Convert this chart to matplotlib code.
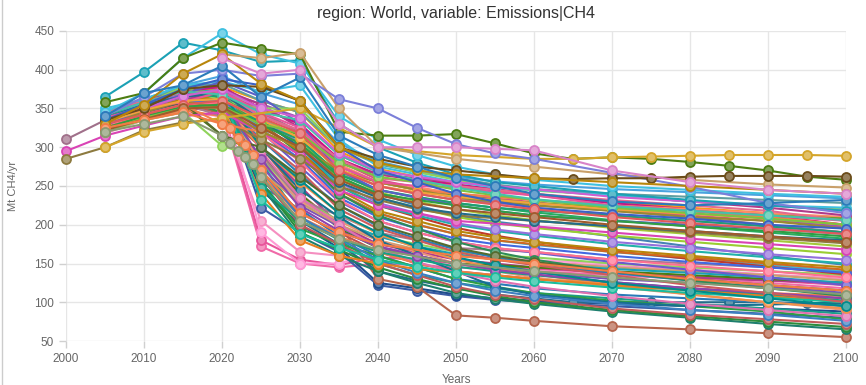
import numpy as np
import matplotlib.pyplot as plt
from matplotlib.colors import to_rgb

plt.rcParams['font.family'] = ['Liberation Sans', 'DejaVu Sans']

N = None
years = list(range(2000, 2101, 5))

# scenarios that stay high until 2030
high_paths = [
    [N, 365, 397, 435, 425, 410, 412, 330, 300, 280, 265, 255, 250, N, 240, N, 232, N, 225, N, 218],
    [N, 345, 370, 415, 447, 420, 408, 340, 310, 290, 275, 265, 258, N, 250, N, 245, N, 240, N, 236],
    [N, 358, 370, 415, 435, 427, 420, 320, 315, 315, 317, 305, 292, 285, 287, 285, 281, 276, 270, 262, 258],
    [N, 300, 320, 330, 338, N, 350, N, 300, N, 290, N, 285, 285, 287, 288, 289, 290, 290, 290, 289],
    [N, N, N, N, 420, 415, 422, 350, 300, N, 285, N, 275, N, 265, N, 258, N, 252, N, 248],
    [N, 340, 365, 395, 400, 392, 395, 362, 350, 325, 304, 292, 285, N, 267, N, 249, N, 228, N, 215],
    [N, 335, 350, 375, 380, 378, 360, 300, 285, 275, 270, 265, 260, 259, 260, 260, 262, 263, 263, 263, 262],
    [N, 330, 355, 395, 420, 382, 360, 300, 280, 270, 265, N, 260, N, 255, N, 250, N, 245, N, 240],
    [N, 340, 370, 380, 405, 365, 390, 315, 290, 275, 260, 250, 240, N, 230, N, 225, N, 228, N, 232],
    [N, N, N, N, 415, 395, 400, 330, 300, 300, 300, 298, 296, N, 270, N, 255, N, 245, N, 240],
]
high_colors = ['#1ba1b5', '#3fc0e0', '#4c7d12', '#d4a52a', '#c9a06a',
               '#7b7fd9', '#6b4c1a', '#b8860b', '#2b7bba', '#d883c8']

# scenarios with a moderate decline
mid_paths = [
    [N, 335, 345, 360, 375, 355, 325, 280, 265, 260, 255, 250, 245, N, 238, N, 230, N, 222, N, 212],
    [N, 325, 340, 355, 330, 320, 300, 270, 255, 245, 240, N, 232, N, 225, N, 218, N, 210, N, 200],
    [N, 330, 355, 378, 360, 350, 350, 300, 280, 268, 258, 250, 244, N, 238, N, 230, N, 225, N, 220],
    [N, 340, 360, 370, 365, 330, 310, 265, 245, 235, 228, 222, 218, N, 212, N, 205, N, 198, N, 190],
    [N, 345, 360, 370, 372, 340, 322, 285, 260, 255, 250, 245, 240, N, 232, N, 225, N, 218, N, 205],
    [N, 350, 362, 380, 385, 372, 380, 310, 275, 265, 255, 248, 245, N, 238, N, 230, N, 225, N, 222],
    [N, 330, 345, 360, 350, 320, 300, 270, 255, 245, 235, N, 225, N, 218, N, 210, N, 205, N, 195],
    [N, 328, 350, 368, 385, 365, 330, 270, 245, 235, 225, 218, 212, N, 205, N, 200, N, 195, N, 188],
    [N, 333, 355, 365, 370, 335, 300, 255, 235, 222, 215, 210, 205, N, 198, N, 192, N, 185, N, 180],
    [N, 338, 352, 358, 372, 345, 325, 275, 255, 250, 248, 242, 238, N, 225, N, 218, N, 212, N, 205],
    [N, 325, 340, 352, 355, 330, 305, 262, 240, 232, 225, 218, 212, N, 205, N, 198, N, 192, N, 185],
    [N, 332, 348, 360, 362, 335, 312, 272, 250, 242, 236, N, 228, N, 220, N, 214, N, 208, N, 200],
    [N, 320, 338, 350, 352, 330, 318, 280, 262, 255, 245, 238, 232, N, 222, N, 215, N, 208, N, 200],
    [N, 342, 358, 372, 368, 345, 335, 290, 268, 258, 248, 240, 233, N, 224, N, 218, N, 212, N, 206],
    [N, 336, 350, 366, 375, 350, 338, 292, 270, 262, 255, 250, 246, N, 236, N, 230, N, 225, N, 218],
    [N, 335, 355, 375, 388, 380, 360, 300, 270, 255, 240, 230, 222, N, 214, N, 208, N, 200, N, 195],
    [N, 330, 342, 355, 360, 338, 318, 270, 250, 240, 232, 226, 220, N, 210, N, 202, N, 195, N, 188],
    [N, 322, 336, 350, 352, 325, 300, 258, 238, 228, 220, 215, 210, N, 200, N, 192, N, 185, N, 178],
]
mid_colors = ['#b03a8a', '#f07f4c', '#8fd35b', '#1f9e74', '#e36b8f', '#3fc0e0',
              '#9a8a2f', '#5b5fc7', '#236c8a', '#e8559b', '#2f9e44', '#f2a33a',
              '#7cc242', '#44c2a8', '#cf5fd0', '#3a62c4', '#e05a5a', '#a05a2c']

# scenarios that fall steeply after 2020
low_paths = [
    [N, 325, 340, 355, 345, 172, 150, 145, 150, 148, 145, 142, 140, N, 135, N, 130, N, 125, N, 118],
    [N, 330, 348, 358, 350, 180, 155, 148, 158, 155, 150, 147, 143, N, 138, N, 133, N, 128, N, 122],
    [N, 318, 335, 345, 340, 205, 165, 160, 170, 165, 160, 156, 152, N, 147, N, 142, N, 136, N, 130],
    [N, 335, 352, 360, 365, 190, 150, 150, 165, 162, 160, 157, 154, N, 150, N, 145, N, 140, N, 135],
    [N, 340, 355, 370, 370, 222, 190, 165, 122, 115, 108, 103, 100, N, 95, N, 90, N, 85, N, 80],
    [N, 332, 348, 360, 360, 245, 200, 170, 125, 118, 110, 105, 102, N, 98, N, 95, N, 92, N, 88],
    [N, 328, 340, 352, 345, 300, 240, 200, 130, 120, 83, 80, 76, N, 69, N, 65, N, 60, N, 55],
    [N, 330, 345, 358, 355, 280, 210, 180, 150, 135, 125, 118, 112, N, 105, N, 98, N, 92, N, 85],
    [N, 335, 350, 360, 358, 260, 205, 175, 140, 128, 118, 110, 105, 100, 100, 100, 100, 100, 100, 99, 98],
    [N, 345, 360, 372, 380, 250, 220, 185, 160, 145, 130, N, 118, N, 110, N, 105, N, 100, N, 95],
    [N, 338, 350, 362, 365, 300, 250, 200, 175, 165, 155, 150, 145, N, 138, N, 132, N, 128, N, 125],
    [N, 330, 342, 355, 315, 290, 240, 195, 170, 160, 150, 148, 145, N, 140, N, 135, N, 130, N, 125],
    [N, 320, 335, 345, 302, 285, 235, 205, 185, 175, 165, 160, 158, N, 150, N, 145, N, 140, N, 135],
    [N, 328, 340, 350, 350, 270, 215, 190, 165, 150, 140, 135, 130, N, 122, N, 116, N, 110, N, 105],
    [N, 336, 350, 365, 368, 275, 225, 198, 172, 160, 150, 143, 138, N, 130, N, 125, N, 120, N, 112],
    [N, 322, 336, 348, 340, 265, 210, 185, 165, 150, 140, N, 130, N, 125, N, 118, N, 112, N, 108],
    [N, 326, 340, 352, 352, 268, 228, 200, 180, 168, 160, N, 152, N, 145, N, 140, N, 135, N, 128],
    [N, 333, 344, 356, 340, 290, 232, 212, 190, 180, 170, N, 165, N, 155, N, 150, N, 145, N, 140],
    [N, 342, 360, 375, 360, 280, 230, 205, 185, 172, 162, 155, 150, N, 143, N, 138, N, 132, N, 125],
    [N, 330, 345, 360, 345, 255, 195, 175, 160, 145, 130, 120, 112, N, 102, N, 95, N, 88, N, 78],
    [N, 324, 338, 350, 352, 282, 230, 205, 180, 165, 150, 140, 132, N, 120, N, 110, N, 100, N, 90],
    [N, 339, 356, 370, 372, 300, 245, 210, 180, 160, 140, 120, 110, N, 100, N, 95, N, 97, N, 100],
]
low_colors = ['#f06aa8', '#e8559b', '#f58fc0', '#ff9ad5', '#3b5ba5', '#1f4e8c',
              '#b5654d', '#1a9e8a', '#236c8a', '#2a7ab8', '#b03a8a', '#4c7d12',
              '#8fd35b', '#c0504d', '#7b52b9', '#f07f4c', '#c9a06a', '#a67b8f',
              '#1ba1b5', '#2f9e44', '#e9967a', '#17708f']

# scenarios with reported history from 2000
hist_paths = [
    [310, 335, 350, 365, 370, 345, 320, 270, 250, 240, 232, N, 225, N, 218, N, 210, N, 200, N, 190],
    [295, 315, 328, 340, 345, 320, 290, 245, 225, 215, 205, N, 198, N, 190, N, 182, N, 175, N, 168],
    [285, 300, 322, 332, 336, 310, 285, 250, 232, 220, 212, N, 205, N, 198, N, 190, N, 183, N, 176],
]
hist_colors = ['#a0708a', '#d943b5', '#8d7a3f']

# remaining scenarios
other_paths = [
    [N, 338, 360, 378, 382, 360, 345, 300, 278, 268, 260, 252, 246, N, 240, N, 236, N, 232, N, 228],
    [N, 344, 360, 372, 378, 350, 330, 285, 265, 258, 252, 246, 240, N, 228, N, 220, N, 212, N, 200],
    [N, 330, 350, 362, 365, 342, 320, 278, 255, 248, 240, N, 232, N, 225, N, 220, N, 215, N, 210],
    [N, 329, 345, 357, 362, 335, 315, 275, 255, 245, 238, 232, 228, N, 222, N, 218, N, 212, N, 208],
    [N, 332, 350, 362, 368, 330, 305, 260, 240, 225, 212, 204, 198, N, 185, N, 172, N, 160, N, 148],
    [N, 336, 352, 364, 368, 342, 320, 275, 255, 245, 235, 228, 222, N, 212, N, 205, N, 198, N, 190],
    [N, 340, 358, 370, 374, 335, 300, 250, 225, 212, 200, 192, 186, N, 175, N, 166, N, 158, N, 150],
    [N, 326, 342, 355, 356, 322, 290, 240, 215, 200, 188, 180, 175, N, 165, N, 158, N, 150, N, 142],
    [N, 334, 352, 366, 368, 340, 310, 260, 235, 222, 210, 202, 196, N, 186, N, 178, N, 170, N, 162],
    [N, 330, 345, 358, 362, 320, 285, 235, 210, 195, 182, 175, 170, N, 160, N, 152, N, 145, N, 138],
    [N, 328, 342, 355, 358, 318, 282, 232, 205, 190, 178, 170, 165, N, 155, N, 147, N, 140, N, 132],
    [N, 336, 354, 368, 372, 330, 292, 240, 212, 195, 178, 165, 155, N, 140, N, 128, N, 118, N, 108],
    [N, 332, 348, 362, 365, 328, 295, 245, 218, 205, 192, 184, 178, N, 168, N, 160, N, 152, N, 145],
    [N, 340, 356, 368, 372, 338, 305, 255, 228, 215, 202, 194, 188, N, 178, N, 170, N, 162, N, 155],
    [N, 325, 338, 350, 352, 310, 270, 220, 195, 180, 165, 155, 148, N, 135, N, 122, N, 112, N, 100],
    [N, 338, 355, 366, 370, 300, 258, 215, 190, 172, 158, 148, 140, N, 125, N, 115, N, 105, N, 95],
    [N, 331, 346, 358, 315, 300, 262, 225, 200, 185, 170, 160, 152, N, 140, N, 130, N, 122, N, 115],
]
other_colors = ['#5f9ea0', '#c71585', '#ff8c69', '#6a9f2f', '#4682b4', '#da70d6',
                '#20b2aa', '#d2691e', '#9acd32', '#4169e1', '#ff6f91', '#2e8b57',
                '#b8860b', '#9370db', '#cd5c5c', '#008b8b', '#556b2f']

# further scenarios filling the middle and lower band
extra_paths = [
    [N, 334, 350, 364, 366, 250, 185, 160, 140, 125, 112, 104, 98, N, 88, N, 80, N, 72, N, 65],
    [N, 330, 346, 358, 360, 255, 190, 168, 145, 130, 118, 108, 100, N, 90, N, 82, N, 75, N, 68],
    [N, 336, 352, 366, 370, 262, 200, 175, 150, 135, 120, 110, 104, N, 92, N, 84, N, 78, N, 72],
    [N, 328, 344, 356, 358, 270, 210, 182, 155, 138, 125, 115, 108, N, 98, N, 90, N, 84, N, 76],
    [N, 342, 358, 372, 376, 295, 235, 200, 170, 152, 138, 128, 120, N, 108, N, 98, N, 90, N, 82],
    [N, 326, 340, 352, 354, 300, 255, 215, 188, 170, 155, 144, 136, N, 122, N, 110, N, 100, N, 92],
    [N, 338, 354, 368, 372, 320, 275, 230, 205, 190, 178, 170, 164, N, 152, N, 142, N, 132, N, 122],
    [N, 332, 348, 360, 364, 325, 282, 240, 215, 200, 188, 180, 174, N, 165, N, 156, N, 148, N, 140],
    [N, 340, 356, 370, 375, 345, 318, 268, 242, 230, 220, 212, 206, N, 196, N, 188, N, 180, N, 172],
    [N, 334, 350, 363, 368, 350, 330, 282, 258, 248, 240, 234, 229, N, 220, N, 212, N, 205, N, 198],
    [N, 345, 362, 380, 392, 370, 355, 305, 282, 270, 262, 256, 252, N, 246, N, 242, N, 238, N, 234],
    [N, 330, 348, 364, 372, 356, 338, 290, 268, 258, 250, 244, 238, N, 228, N, 218, N, 208, N, 196],
    [N, 336, 353, 368, 374, 248, 205, 182, 165, 155, 146, 140, 135, N, 126, N, 118, N, 110, N, 102],
    [N, 329, 343, 355, 352, 240, 180, 160, 150, 143, 138, 134, 130, N, 122, N, 115, N, 108, N, 100],
    [N, 333, 349, 361, 362, 310, 265, 225, 198, 182, 168, 158, 150, N, 138, N, 128, N, 118, N, 110],
    [N, 341, 357, 369, 372, 330, 295, 250, 225, 210, 196, 186, 178, N, 166, N, 156, N, 146, N, 136],
    [N, 327, 341, 353, 355, 335, 310, 265, 245, 236, 228, 222, 216, N, 206, N, 198, N, 190, N, 182],
    [N, 337, 354, 368, 378, 360, 345, 295, 272, 262, 252, 245, 238, N, 230, N, 222, N, 215, N, 208],
    [N, 331, 347, 359, 363, 285, 222, 192, 172, 160, 150, 142, 136, N, 126, N, 118, N, 112, N, 105],
    [N, 339, 355, 367, 371, 232, 188, 170, 155, 146, 138, 132, 127, N, 119, N, 112, N, 106, N, 100],
]
extra_colors = ['#1e7f6e', '#2c8c3c', '#c05a5a', '#3c7fc0', '#e070b0', '#f0904a',
                '#6a5acd', '#48b0d0', '#a3c93a', '#d45087', '#4aa3df', '#9b59b6',
                '#16a085', '#e67e22', '#2980b9', '#c0392b', '#27ae60', '#f39c12',
                '#8e44ad', '#1abc9c']

# annual points around 2020
annual_years = [2005, 2010, 2015, 2020, 2021, 2022, 2023, 2024, 2025, 2030, 2035, 2040,
                2050, 2060, 2070, 2080, 2090, 2100]
annual_orange = [325, 335, 345, 330, 325, 312, 303, 290, 270, 215, 190, 175,
                 160, 150, 140, 130, 122, 115]
annual_grey = [320, 330, 340, 315, 305, 295, 288, 278, 262, 205, 182, 168,
               150, 140, 132, 125, 118, 110]

title = 'region: World, variable: Emissions|CH4'
x_label = 'Years'
y_label = 'Mt CH4/yr'


def lighten(c, k=0.3):
    r = np.array(to_rgb(c))
    return tuple(r + (1 - r) * k)


fig = plt.figure(figsize=(8.66, 3.85), dpi=100)
ax = fig.add_axes([66 / 866, 1 - 341 / 385, 780 / 866, 310 / 385])


def draw(xs, vals, col):
    xs = np.array(xs, dtype=float)
    v = np.array(vals, dtype=float)
    m = ~np.isnan(v)
    ax.plot(xs[m], v[m], color=col, lw=1.5, marker='o', ms=6.5,
            mfc=lighten(col), mec=col, mew=1.3, clip_on=False, zorder=3)


for group, cols in [(low_paths, low_colors), (extra_paths, extra_colors),
                    (other_paths, other_colors), (hist_paths, hist_colors),
                    (mid_paths, mid_colors), (high_paths, high_colors)]:
    for vals, col in zip(group, cols):
        draw(years, vals, col)
draw(annual_years, annual_orange, '#f27b45')
draw(annual_years, annual_grey, '#8a9a72')

ax.set_xlim(2000, 2100)
ax.set_ylim(50, 450)
ax.set_xticks(range(2000, 2101, 10))
ax.set_yticks(range(50, 451, 50))
ax.grid(True, color='#e6e6e6', lw=1)
ax.set_axisbelow(True)
for s in ax.spines.values():
    s.set_visible(False)
ax.tick_params(axis='both', colors='#d0d0d0', labelcolor='#666666', labelsize=8.5,
               length=5, width=1)
ax.tick_params(axis='x', pad=4)
ax.set_title(title, fontsize=11.5, color='#333333', pad=9)
ax.set_xlabel(x_label, fontsize=8.5, color='#666666', labelpad=6)
ax.set_ylabel(y_label, fontsize=8, color='#666666', labelpad=12)
fig.add_artist(plt.Line2D([2 / 866, 2 / 866], [0, 1], color='#cccccc', lw=1))

fig.savefig('out.png', dpi=100)
